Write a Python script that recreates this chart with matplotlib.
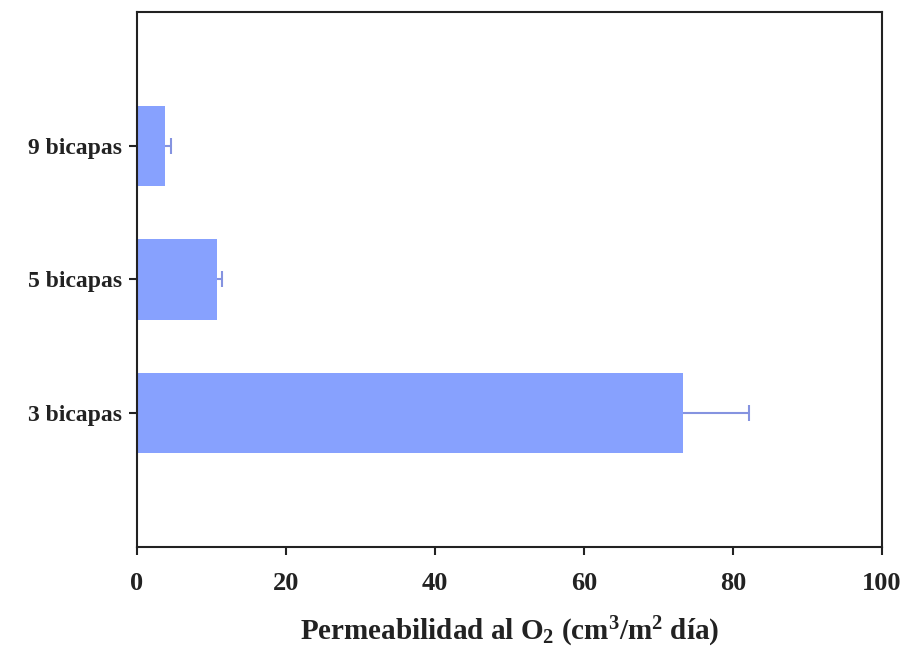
import matplotlib
matplotlib.use("Agg")
import matplotlib.pyplot as plt

# Oxygen permeability by number of bilayers
categories = ["3 bicapas", "5 bicapas", "9 bicapas"]
permeability = [73.3, 10.8, 3.8]
error_plus = [8.8, 0.6, 0.8]
x_ticks = [0, 20, 40, 60, 80, 100]

plt.rcParams["font.family"] = ["Liberation Serif", "DejaVu Serif"]
plt.rcParams["font.weight"] = "bold"
plt.rcParams["mathtext.default"] = "regular"

fig = plt.figure(figsize=(9.04, 6.55), dpi=100)
ax = fig.add_axes([0.1515, 0.1649, 0.8242, 0.8168])

ypos = list(range(len(categories)))
ax.barh(ypos, permeability, height=0.6, color="#87A1FE", zorder=2)

# one-sided (upper) error bars: whisker plus a cap at the far end only
err_end = [p + e for p, e in zip(permeability, error_plus)]
err_color = "#8593E0"
ax.hlines(ypos, permeability, err_end, color=err_color, linewidth=1.5, zorder=3)
ax.plot(err_end, ypos, linestyle="none", marker="|", markersize=12,
        markeredgewidth=1.5, color=err_color, zorder=3)

ax.set_xlim(0, 100)
ax.set_ylim(-1, 3)
ax.set_xticks(x_ticks)
ax.set_xticklabels([str(t) for t in x_ticks])
ax.set_yticks(ypos)
ax.set_yticklabels(categories)

for s in ax.spines.values():
    s.set_linewidth(1.5)
    s.set_color("#222222")

ax.tick_params(axis="both", direction="out", length=6, width=1.5,
               colors="#222222")
ax.tick_params(axis="x", pad=12, labelsize=19)
ax.tick_params(axis="y", pad=5, labelsize=17)
for lab in ax.get_xticklabels() + ax.get_yticklabels():
    lab.set_fontweight("bold")

ax.set_xlabel("Permeabilidad al O$_2$ (cm$^3$/m$^2$ día)", fontsize=21,
              fontweight="bold", labelpad=14, color="#222222")

fig.savefig("out.png", dpi=100)
